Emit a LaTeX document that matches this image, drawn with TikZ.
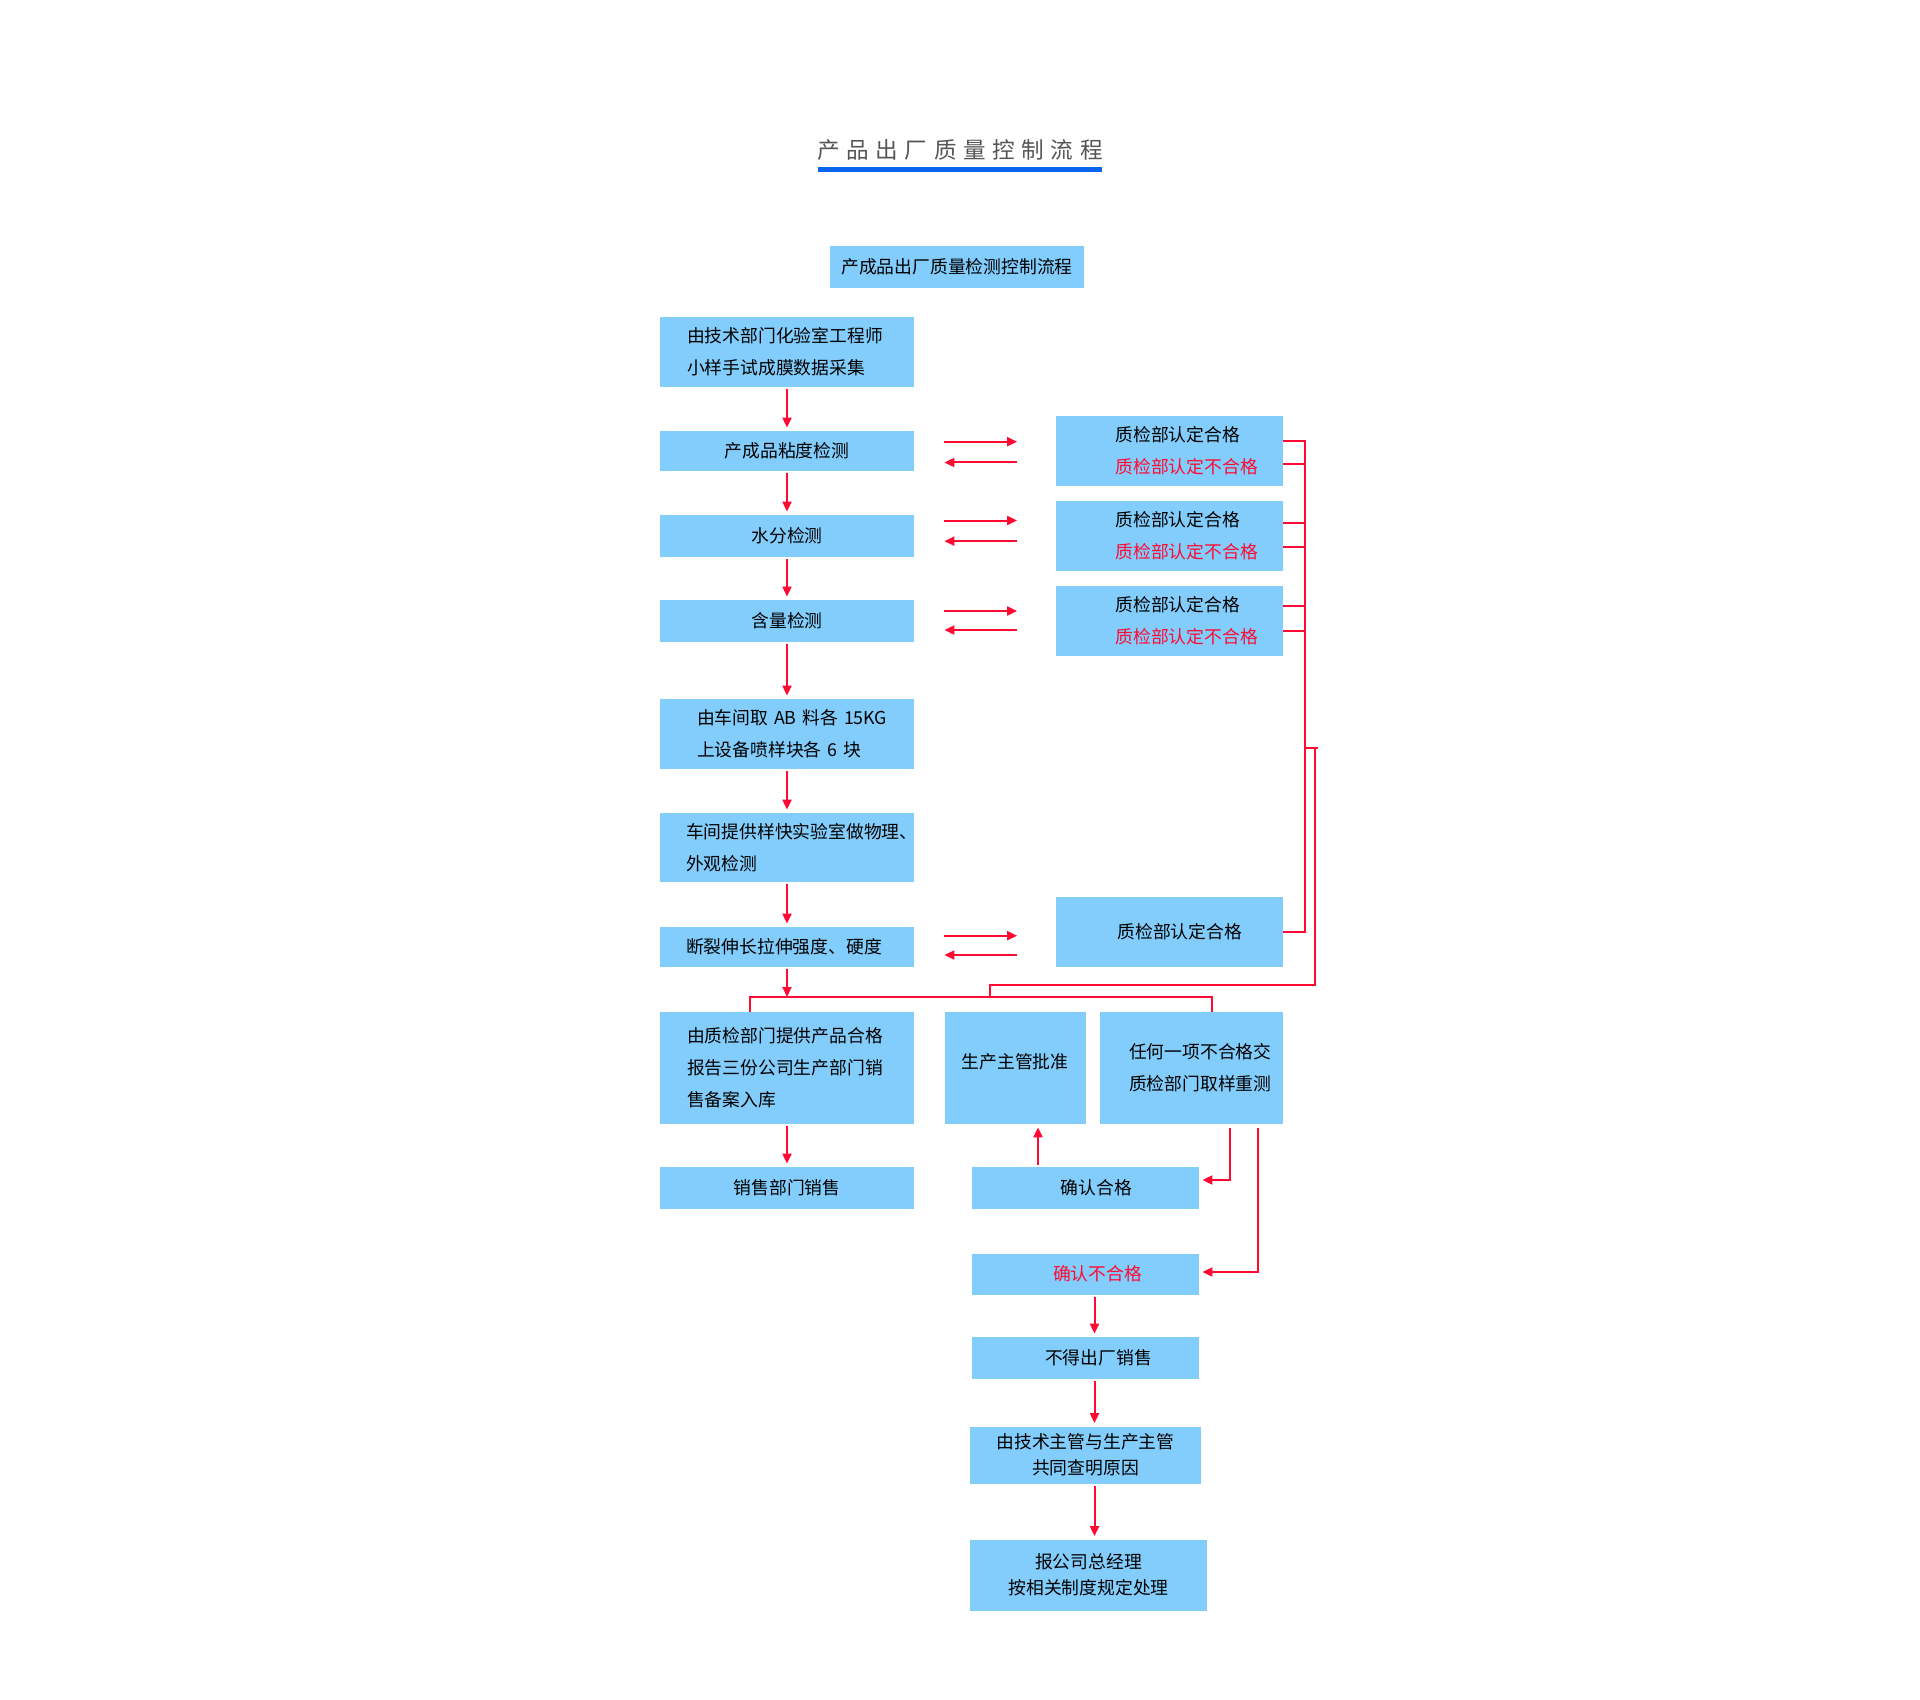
\documentclass[tikz,border=0pt]{standalone}
\usepackage{fontspec}
\newfontfamily\cjk{Noto Sans CJK SC}
\usetikzlibrary{arrows.meta}
\definecolor{boxblue}{RGB}{130,205,252}
\definecolor{linered}{RGB}{255,10,50}
\definecolor{titleblue}{RGB}{10,100,240}
\definecolor{titlegray}{RGB}{85,85,85}
\newcommand{\tsp}{\hspace{3.3pt}}

\begin{document}
\begin{tikzpicture}[x=0.5pt, y=-0.5pt, node distance=42.5pt, box/.style={rectangle, fill=boxblue, inner sep=0pt, font={\cjk\fontsize{8.9pt}{16pt}\selectfont}}, lbox/.style={box, align=left, inner xsep=#1}, flow/.style={->, color=linered, line width=1pt, shorten <=1pt, shorten >=1.5pt}, link/.style={color=linered, line width=1pt}, >={Triangle[length=5pt, width=4.5pt]}]

  \useasboundingbox (0,0) rectangle (1920,1700);

  \node[font={\cjk\fontsize{11.3pt}{13pt}\selectfont}, text=titlegray] (title) at (960,150) {产\tsp 品\tsp 出\tsp 厂\tsp 质\tsp 量\tsp 控\tsp 制\tsp 流\tsp 程};
  \fill[titleblue] (818,167) rectangle (1102,172);

  \node[box, minimum width=127pt, minimum height=21pt] (head) at (957,267) {产成品出厂质量检测控制流程};
  \node[lbox=13.5pt, text width=100pt, minimum height=35pt] (b1) at (787,352) {由技术部门化验室工程师\\小样手试成膜数据采集};
  \node[box, minimum width=127pt, minimum height=20pt, below of=b1, node distance=49.5pt] (b2) {产成品粘度检测};
  \node[box, minimum width=127pt, minimum height=21pt, below of=b2] (b3) {水分检测};
  \node[box, minimum width=127pt, minimum height=21pt, below of=b3] (b4) {含量检测};
  \node[lbox=18.5pt, text width=90pt, minimum height=35pt, below of=b4, node distance=56.5pt] (b5) {由车间取~AB~料各~15KG\\上设备喷样块各~6~块};
  \node[lbox=13pt, text width=101pt, minimum height=34.5pt, below of=b5, node distance=56.75pt] (b6) {车间提供样快实验室做物理、\\外观检测};
  \node[lbox=13pt, text width=101pt, minimum height=20pt, below of=b6, node distance=49.75pt] (b7) {断裂伸长拉伸强度、硬度};
  \node[lbox=13.5pt, text width=100pt, minimum height=56pt, below of=b7, node distance=60.5pt] (b8) {由质检部门提供产品合格\\报告三份公司生产部门销\\售备案入库};
  \node[box, minimum width=70.5pt, minimum height=56pt, right of=b8, node distance=114pt] (b9) {\raisebox{7pt}{生产主管批准}};
  \node[lbox=14.5pt, text width=62.5pt, minimum height=56pt, right of=b9, node distance=88.25pt] (b10) {任何一项不合格交\\质检部门取样重测};
  \node[box, minimum width=127pt, minimum height=21pt, below of=b8, node distance=60pt] (b11) {销售部门销售};
  \node[box, minimum width=113.5pt, minimum height=21pt, right of=b11, node distance=149.25pt] (b12) {\hspace*{11pt}确认合格};
  \node[box, minimum width=113.5pt, minimum height=20.5pt, below of=b12, node distance=43pt] (b13) {\hspace*{12pt}\textcolor{linered}{确认不合格}};
  \node[box, minimum width=113.5pt, minimum height=21pt, below of=b13, node distance=42pt] (b14) {\hspace*{13pt}不得出厂销售};
  \node[box, align=center, minimum width=115.5pt, minimum height=28.5pt, font={\cjk\fontsize{8.9pt}{13pt}\selectfont}, below of=b14, node distance=48.5pt] (b15) {由技术主管与生产主管\\共同查明原因};
  \node[box, align=center, minimum width=118.5pt, minimum height=35.5pt, font={\cjk\fontsize{8.9pt}{13pt}\selectfont}, below of=b15, node distance=60pt, xshift=1.5pt] (b16) {报公司总经理\\按相关制度规定处理};

  \node[lbox=30pt, text width=53.5pt, minimum height=35pt, right of=b2, node distance=191pt] (r1) {质检部认定合格\\\textcolor{linered}{质检部认定不合格}};
  \node[lbox=30pt, text width=53.5pt, minimum height=35pt, right of=b3, node distance=191pt] (r2) {质检部认定合格\\\textcolor{linered}{质检部认定不合格}};
  \node[lbox=30pt, text width=53.5pt, minimum height=35pt, right of=b4, node distance=191pt] (r3) {质检部认定合格\\\textcolor{linered}{质检部认定不合格}};
  \node[lbox=31pt, text width=51.5pt, minimum height=35pt, below of=r3, node distance=155.5pt] (r4) {质检部认定合格};

  \node[coordinate] (rtop) at (1305,441) {};
  \node[coordinate] (rjoin) at (1315,748) {};
  \node[coordinate] (back) at (990,985) {};
  \node[coordinate] (bus) at (990,997) {};

  \foreach \a/\b in {b1/b2, b2/b3, b3/b4, b4/b5, b5/b6, b6/b7, b8/b11}
    \draw[flow] (\a) -- (\b);
  \foreach \a/\b/\u/\d in {b2/r1/4.65/-5.75, b3/r2/7.75/-2.6, b4/r3/5/-4.5, b7/r4/5.65/-4} {
    \draw[flow, shorten <=15pt, shorten >=19pt] ([yshift=\u pt]\a.east) -- ([yshift=\u pt]\a.east -| \b.west);
    \draw[flow, shorten <=19pt, shorten >=15pt] ([yshift=\d pt]\a.east -| \b.west) -- ([yshift=\d pt]\a.east);
  }

  \draw[link] (r1.east |- rtop) -- (rtop) |- (r4.east);
  \foreach \b/\s in {r1/-6.5, r2/6.75, r2/-5.5, r3/7.75, r3/-4.75}
    \draw[link] ([yshift=\s pt]\b.east) -- ([yshift=\s pt]\b.east -| rtop);
  \draw[link] (rjoin -| rtop) -- ([xshift=1.5pt]rjoin);
  \draw[link] (rjoin) |- (back) -- (bus);
  \draw[link] ([xshift=-18.5pt]b8.north) |- (bus) -| ([xshift=10.25pt]b10.north);
  \draw[flow, shorten >=0pt] (b7) -- (b7.south |- bus);

  \draw[flow] ([xshift=11.5pt]b9.south |- b12.north) -- ([xshift=11.5pt]b9.south);
  \draw[flow, shorten <=2pt] ([xshift=19.25pt]b10.south) |- ([yshift=4pt]b12.east);
  \draw[flow, shorten <=2pt] ([xshift=33.25pt]b10.south) |- ([yshift=1pt]b13.east);
  \foreach \a/\b in {b13/b14, b14/b15, b15/b16}
    \draw[flow] ([xshift=4.5pt]\a.south) -- ([xshift=4.5pt]\a.south |- \b.north);
\end{tikzpicture}
\end{document}
